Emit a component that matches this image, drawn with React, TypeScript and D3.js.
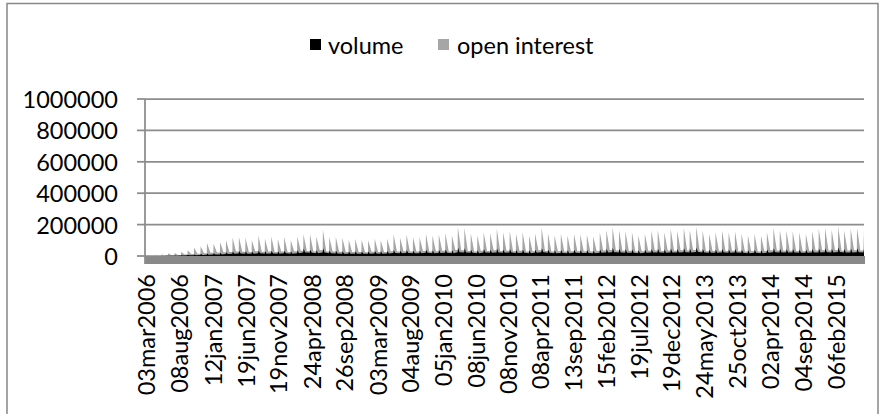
import React from 'react';
import * as d3 from 'd3';

// ---- data ----
const startLabel = '03mar2006';
const endLabel = '23jun2015';
const tickLabels = [
  '03mar2006', '08aug2006', '12jan2007', '19jun2007', '19nov2007', '24apr2008',
  '26sep2008', '03mar2009', '04aug2009', '05jan2010', '08jun2010', '08nov2010',
  '08apr2011', '13sep2011', '15feb2012', '19jul2012', '19dec2012', '24may2013',
  '25oct2013', '02apr2014', '04sep2014', '06feb2015',
];
const yTicks = [0, 200000, 400000, 600000, 800000, 1000000];

// monthly contract cycle (Mar 2006 .. Jun 2015), 112 months
const oiPeak = [
  5000, 8000, 10000, 18000, 19000, 25000, 36000, 53000, 62000, 83000,
  78000, 89000, 100000, 117000, 121000, 117000, 100000, 130000, 110000, 125000,
  108000, 121000, 100000, 125000, 138000, 138000, 125000, 167000, 121000, 121000,
  117000, 104000, 108000, 104000, 100000, 110000, 100000,
  110000, 137000, 116000, 137000, 120000, 120000, 141000, 130000, 137000, 145000,
  130000, 183000, 179000, 145000, 130000, 152000, 145000, 173000, 152000, 158000,
  141000, 152000, 130000, 141000, 179000, 145000, 130000, 141000, 130000, 141000,
  137000, 137000, 124000, 152000, 166000, 183000, 166000, 160000,
  152000, 130000, 141000, 162000, 166000, 152000, 173000, 162000, 179000, 166000,
  187000, 162000, 141000, 152000, 162000, 152000, 158000, 141000, 130000, 141000,
  130000, 152000, 179000, 166000, 162000, 158000, 152000, 141000, 158000, 173000,
  179000, 166000, 187000, 162000, 173000, 179000, 166000,
];
const oiLow = [
  1000, 2000, 3000, 4000, 5000, 7000, 9000, 12000, 15000, 18000,
  20000, 22000, 24000, 26000, 28000, 27000, 25000, 30000, 27000, 29000,
  26000, 29000, 25000, 30000, 34000, 32000, 29000, 36000, 29000, 28000,
  27000, 25000, 26000, 25000, 24000, 27000, 25000,
  26000, 31000, 28000, 31000, 28000, 28000, 32000, 29000, 31000, 33000,
  29000, 38000, 36000, 32000, 29000, 34000, 32000, 36000, 32000, 34000,
  31000, 33000, 29000, 31000, 37000, 32000, 29000, 31000, 29000, 31000,
  31000, 31000, 28000, 32000, 35000, 38000, 35000, 34000,
  33000, 29000, 31000, 34000, 35000, 32000, 35000, 34000, 37000, 35000,
  38000, 34000, 31000, 32000, 34000, 32000, 34000, 31000, 29000, 31000,
  29000, 32000, 37000, 35000, 34000, 34000, 32000, 31000, 34000, 35000,
  37000, 35000, 39000, 34000, 35000, 37000, 35000,
];
const volPeak = [
  0, 0, 1000, 2000, 3000, 5000, 8000, 10000, 14000, 16000,
  18000, 20000, 24000, 28000, 32000, 30000, 28000, 35000, 30000, 33000,
  30000, 34000, 28000, 36000, 48000, 40000, 36000, 50000, 34000, 33000,
  30000, 28000, 30000, 29000, 28000, 32000, 30000,
  32000, 38000, 33000, 38000, 34000, 34000, 40000, 36000, 38000, 42000,
  36000, 52000, 50000, 40000, 36000, 44000, 40000, 48000, 42000, 45000,
  38000, 42000, 36000, 40000, 50000, 40000, 36000, 39000, 36000, 40000,
  38000, 38000, 34000, 42000, 46000, 52000, 46000, 44000,
  42000, 36000, 40000, 45000, 46000, 42000, 48000, 45000, 50000, 46000,
  54000, 45000, 40000, 42000, 45000, 42000, 44000, 40000, 36000, 40000,
  36000, 42000, 50000, 46000, 45000, 44000, 42000, 40000, 44000, 48000,
  50000, 46000, 56000, 45000, 48000, 50000, 46000,
];
const volLow = [
  0, 0, 500, 1000, 1500, 2500, 4000, 5000, 7000, 8000,
  9000, 10000, 12000, 14000, 16000, 15000, 14000, 17000, 15000, 16000,
  15000, 17000, 14000, 18000, 22000, 20000, 18000, 22000, 17000, 16000,
  15000, 14000, 15000, 14000, 14000, 16000, 15000,
  16000, 19000, 17000, 19000, 17000, 17000, 20000, 18000, 19000, 21000,
  18000, 24000, 23000, 20000, 18000, 22000, 20000, 23000, 21000, 22000,
  19000, 21000, 18000, 20000, 24000, 20000, 18000, 19000, 18000, 20000,
  19000, 19000, 17000, 21000, 22000, 24000, 22000, 21000,
  21000, 18000, 20000, 22000, 22000, 21000, 23000, 22000, 24000, 22000,
  25000, 22000, 20000, 21000, 22000, 21000, 22000, 20000, 18000, 20000,
  18000, 21000, 24000, 22000, 22000, 22000, 21000, 20000, 22000, 23000,
  24000, 22000, 26000, 22000, 23000, 24000, 22000,
];

const parse = d3.timeParse('%d%b%Y');

export default function App() {
  const W = 882, H = 414;
  const left = 145, right = 864, top = 99, zeroY = 256;
  const font = 'Lato, "Open Sans", sans-serif';
  const fs = 23.5;

  const start = parse(startLabel) as Date;
  const end = parse(endLabel) as Date;
  const x = d3.scaleTime().domain([start, end]).range([left, right]);
  const y = d3.scaleLinear().domain([0, 1000000]).range([zeroY, top]);

  const months = d3.timeMonth.range(new Date(2006, 2, 1), new Date(2015, 6, 1));
  const oiPts: { d: Date; v: number }[] = [{ d: start, v: oiLow[0] }];
  const volPts: { d: Date; v: number }[] = [{ d: start, v: volLow[0] }];
  months.forEach((m, i) => {
    const r = new Date(m.getFullYear(), m.getMonth(), 20);
    const nextLow = oiLow[Math.min(i + 1, oiLow.length - 1)];
    oiPts.push({ d: r, v: oiLow[i] });
    oiPts.push({ d: d3.timeDay.offset(r, 1), v: oiPeak[i] });
    oiPts.push({ d: d3.timeDay.offset(r, 17), v: nextLow });
    volPts.push({ d: r, v: volLow[i] });
    volPts.push({ d: d3.timeDay.offset(r, 2), v: volPeak[i] });
    volPts.push({ d: d3.timeDay.offset(r, 9), v: volLow[i] });
  });
  oiPts.push({ d: end, v: oiPeak[oiPeak.length - 1] });
  volPts.push({ d: end, v: volPeak[volPeak.length - 1] });

  const area = d3
    .area<{ d: Date; v: number }>()
    .x((p) => Math.min(x(p.d), right))
    .y0(y(0))
    .y1((p) => y(p.v));

  const grid = '#8c8c8c';

  return (
    <svg width={W} height={H} style={{ display: 'block', position: 'absolute', left: 0, top: 0 }}>
      <rect x={7} y={3.5} width={871} height={430} fill="#fff" stroke="#878787" strokeWidth={1.5} />
      {/* legend */}
      <g fontFamily={font} fontSize={fs} fill="#000">
        <rect x={310} y={39} width={11} height={11} fill="#000" />
        <text x={328} y={45} dominantBaseline="central">volume</text>
        <rect x={438} y={39} width={11} height={11} fill="#a6a6a6" />
        <text x={457} y={45} dominantBaseline="central">open interest</text>
      </g>
      {/* gridlines */}
      {yTicks.map((t) => (
        <line key={t} x1={left} x2={right} y1={y(t)} y2={y(t)} stroke={grid} strokeWidth={1.75} />
      ))}
      {/* series */}
      <path d={area(oiPts) || ''} fill="#a6a6a6" />
      <path d={area(volPts) || ''} fill="#000" />
      {/* floor */}
      <rect x={left} y={zeroY} width={right - left + 1} height={8} fill="#898989" />
      {/* y axis */}
      <line x1={left} x2={left} y1={top} y2={zeroY + 8} stroke={grid} strokeWidth={1.75} />
      {yTicks.map((t) => (
        <line key={'t' + t} x1={left - 8} x2={left} y1={y(t)} y2={y(t)} stroke={grid} strokeWidth={1.75} />
      ))}
      <g fontFamily={font} fontSize={fs} fill="#000" textAnchor="end">
        {yTicks.map((t) => (
          <text key={'l' + t} x={118} y={y(t)} dominantBaseline="central">
            {t}
          </text>
        ))}
      </g>
      {/* x labels */}
      <g fontFamily={font} fontSize={fs} fill="#000" textAnchor="end">
        {tickLabels.map((lab) => {
          const px = x(parse(lab) as Date) + 1;
          return (
            <text key={lab} transform={`translate(${px},274) rotate(-90)`} dominantBaseline="central">
              {lab}
            </text>
          );
        })}
      </g>
    </svg>
  );
}
